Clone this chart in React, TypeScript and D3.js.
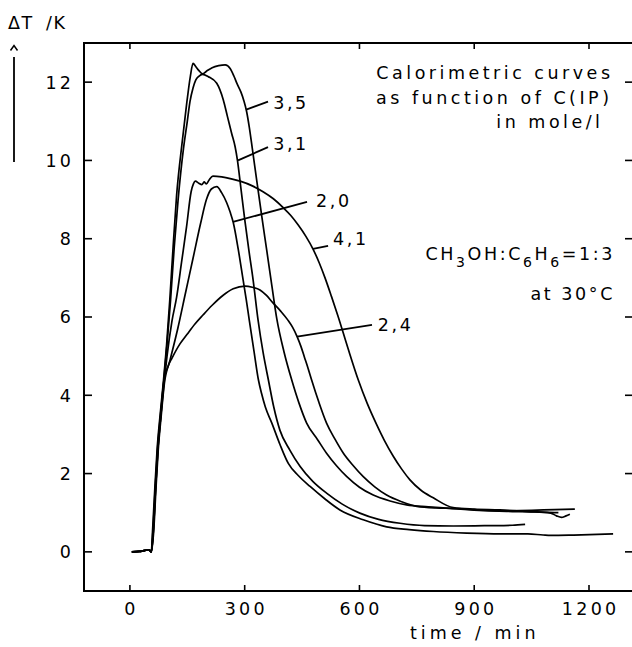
import React from "react";
import * as d3 from "d3";

type P = [number, number];

// ---------- data (time / min, ΔT / K) ----------
const xTicks = [0, 300, 600, 900, 1200];
const yTicks = [0, 2, 4, 6, 8, 10, 12];

const baseline: P[] = [[5, 0], [25, 0.01], [40, 0.04], [50, 0.05], [56, 0]];

const curve35: P[] = [
  ...baseline,
  [59, 0.5], [65, 1.6], [71, 2.6], [79, 3.5], [87, 4.3], [96, 5.3], [104, 6.4], [113, 7.8], [122, 9.1],
  [137, 10.5], [149, 11.5], [158, 12.15], [165, 12.48], [172, 12.4], [180, 12.3], [190, 12.21],
  [200, 12.28], [215, 12.37], [232, 12.42], [249, 12.44], [262, 12.35], [272, 12.15], [280, 11.96],
  [290, 11.75], [298, 11.52], [305, 11.25], [312, 10.85], [320, 10.3], [332, 9.45], [345, 8.55],
  [358, 7.68], [371, 6.8], [384, 5.95], [403, 5.1], [423, 4.39], [442, 3.8], [462, 3.29], [491, 2.86],
  [514, 2.52], [540, 2.2], [567, 1.92], [600, 1.65], [636, 1.45], [680, 1.3], [723, 1.2], [780, 1.15],
  [837, 1.11], [924, 1.05], [1000, 1.03], [1060, 1.02], [1120, 1.0],
];

const curve31: P[] = [
  ...baseline,
  [60, 0.5], [66, 1.6], [72, 2.6], [80, 3.5], [88, 4.3], [97, 5.3], [106, 6.4], [116, 7.8], [126, 9.0],
  [140, 10.3], [150, 11.0], [157, 11.5], [165, 11.85], [172, 12.05], [180, 12.15], [190, 12.2],
  [205, 12.14], [227, 11.97], [244, 11.55], [255, 11.12], [266, 10.69], [275, 10.35], [281, 10.01],
  [290, 9.3], [300, 8.5], [311, 7.7], [322, 6.95], [335, 5.92], [348, 5.1], [362, 4.39], [376, 3.7],
  [392, 3.11], [418, 2.6], [445, 2.18], [478, 1.8], [514, 1.5], [555, 1.22], [601, 0.99], [650, 0.83],
  [706, 0.73], [770, 0.67], [845, 0.66], [940, 0.67], [1000, 0.68], [1033, 0.7],
];

const curve20: P[] = [
  ...baseline,
  [62, 0.5], [68, 1.6], [74, 2.6], [82, 3.5], [90, 4.3], [105, 4.9], [125, 5.7], [145, 6.6],
  [165, 7.5], [185, 8.4], [200, 9.0], [213, 9.27], [227, 9.33], [240, 9.17], [253, 8.92], [262, 8.68],
  [270, 8.42], [283, 7.74], [296, 6.94], [304, 6.45], [312, 5.92], [324, 5.15], [336, 4.39], [344, 4.05],
  [354, 3.7], [371, 3.29], [392, 2.75], [414, 2.26], [440, 1.95], [471, 1.67], [510, 1.35], [549, 1.07],
  [610, 0.82], [671, 0.64], [730, 0.57], [793, 0.52], [880, 0.48], [967, 0.46], [1040, 0.46],
  [1080, 0.43], [1100, 0.42], [1160, 0.43], [1263, 0.46],
];

const curve41: P[] = [
  ...baseline,
  [61, 0.5], [67, 1.6], [73, 2.6], [81, 3.5], [89, 4.3], [97, 5.0], [110, 5.9], [122, 6.5],
  [135, 7.4], [148, 8.3], [160, 9.2], [166, 9.4], [171, 9.47], [180, 9.42], [188, 9.38], [194, 9.45],
  [200, 9.4], [207, 9.5], [217, 9.6], [240, 9.58], [265, 9.53], [288, 9.47], [320, 9.35], [348, 9.2],
  [375, 9.02], [400, 8.8], [420, 8.6], [440, 8.35], [460, 8.06], [479, 7.73], [495, 7.38], [510, 7.0],
  [527, 6.52], [544, 6.02], [570, 5.2], [597, 4.39], [620, 3.8], [645, 3.25], [665, 2.85], [688, 2.45],
  [710, 2.12], [732, 1.84], [760, 1.58], [793, 1.38], [845, 1.13], [900, 1.09], [967, 1.07],
  [1040, 1.03], [1100, 0.99], [1115, 0.92], [1128, 0.88], [1140, 0.92], [1150, 0.96],
];

const curve24: P[] = [
  ...baseline,
  [61, 0.5], [67, 1.6], [73, 2.6], [81, 3.5], [88, 4.3], [100, 4.75], [110, 4.95], [130, 5.3],
  [149, 5.55], [170, 5.82], [191, 6.05], [215, 6.3], [243, 6.55], [270, 6.72], [301, 6.79],
  [320, 6.76], [340, 6.69], [357, 6.55], [374, 6.36], [394, 6.15], [413, 5.92], [425, 5.74],
  [437, 5.5], [447, 5.25], [456, 4.98], [466, 4.68], [475, 4.39], [494, 3.82], [514, 3.29], [536, 2.88],
  [558, 2.52], [584, 2.2], [610, 1.92], [640, 1.66], [671, 1.45], [710, 1.28], [750, 1.16], [800, 1.12],
  [845, 1.11], [900, 1.08], [967, 1.05], [1050, 1.06], [1110, 1.08], [1163, 1.09],
];

const seriesList = [curve35, curve31, curve20, curve41, curve24];

// curve labels: text, leader start (on curve), leader end, label anchor (data coords)
const labelTexts = ["3,5", "3,1", "2,0", "4,1", "2,4"];
const leaderFrom: P[] = [[304, 11.3], [282.6, 10.0], [269.5, 8.43], [478.6, 7.74], [436.8, 5.5]];
const leaderTo: P[] = [[361, 11.5], [361, 10.34], [463, 8.94], [518, 7.82], [632.8, 5.8]];
const labelAt: P[] = [[374.5, 11.32], [374.5, 10.27], [486.5, 8.82], [531, 7.84], [648, 5.63]];

const titleLines = ["Calorimetric curves", "as function of C(IP)", "in mole/l"];

// ---------- layout ----------
const W = 632;
const H = 647;
const x = d3.scaleLinear().domain([-120, 1315]).range([84, 633]);
const y = d3.scaleLinear().domain([-1, 13]).range([591, 43]);

const FONT = "'DejaVu Sans', sans-serif";
const FS = 17.5;
const LS = 3.3;

export default function App() {
  const line = d3
    .line<P>()
    .x((d) => x(d[0]))
    .y((d) => y(d[1]))
    .curve(d3.curveMonotoneX);

  const [x0, x1] = x.range();
  const [y0, y1] = y.range();

  return (
    <svg
      width={W}
      height={H}
      style={{ position: "absolute", left: 0, top: 0, background: "#fff" }}
      fontFamily={FONT}
      fontSize={FS}
      fill="#000"
    >
      <rect x={0} y={0} width={W} height={H} fill="#fff" />
      {/* frame */}
      <rect x={x0} y={y1} width={x1 - x0} height={y0 - y1} fill="none" stroke="#000" strokeWidth={2} />
      {/* x ticks */}
      {xTicks.map((t) => (
        <g key={"xt" + t}>
          <line x1={x(t)} x2={x(t)} y1={y0} y2={y0 - 6} stroke="#000" strokeWidth={1.6} />
          <line x1={x(t)} x2={x(t)} y1={y1} y2={y1 + 6} stroke="#000" strokeWidth={1.6} />
          <text x={x(t) + LS / 2} y={615} textAnchor="middle" letterSpacing={LS}>
            {t}
          </text>
        </g>
      ))}
      {/* y ticks */}
      {yTicks.map((v) => (
        <g key={"yt" + v}>
          <line x1={x0} x2={x0 + 8} y1={y(v)} y2={y(v)} stroke="#000" strokeWidth={1.6} />
          <line x1={x1} x2={x1 - 8} y1={y(v)} y2={y(v)} stroke="#000" strokeWidth={1.6} />
          <text x={71 + LS} y={y(v) + 6.4} textAnchor="end" letterSpacing={LS}>
            {v}
          </text>
        </g>
      ))}
      {/* axis titles */}
      <text x={8} y={29} letterSpacing={1.5}>ΔT</text>
      <text x={46} y={29} letterSpacing={1.5}>/K</text>
      <path d="M10.5,50.5 L14,45.5 L17.5,50.5" fill="none" stroke="#000" strokeWidth={1.5} />
      <line x1={14} x2={14} y1={57} y2={162} stroke="#000" strokeWidth={1.8} />
      <text x={410} y={639} letterSpacing={4}>
        time / min
      </text>
      {/* curves */}
      {seriesList.map((s, i) => (
        <path key={"c" + i} d={line(s) || ""} fill="none" stroke="#000" strokeWidth={1.7} strokeLinejoin="round" />
      ))}
      {/* leaders and labels */}
      {labelTexts.map((t, i) => (
        <g key={"l" + i}>
          <line
            x1={x(leaderFrom[i][0])}
            y1={y(leaderFrom[i][1])}
            x2={x(leaderTo[i][0])}
            y2={y(leaderTo[i][1])}
            stroke="#000"
            strokeWidth={1.8}
          />
          <text x={x(labelAt[i][0])} y={y(labelAt[i][1])} letterSpacing={2.6}>
            {t}
          </text>
        </g>
      ))}
      {/* annotations */}
      {titleLines.map((t, i) => (
        <text key={"tl" + i} x={[613.5, 612.5, 603.5][i]} y={[79, 104, 128][i]} textAnchor="end" letterSpacing={3.5}>
          {t}
        </text>
      ))}
      <text x={615} y={260} textAnchor="end" letterSpacing={2.6}>
        CH<tspan dy={7} fontSize={14}>3</tspan>
        <tspan dy={-7}>OH:C</tspan>
        <tspan dy={7} fontSize={14}>6</tspan>
        <tspan dy={-7}>H</tspan>
        <tspan dy={7} fontSize={14}>6</tspan>
        <tspan dy={-7}>=1:3</tspan>
      </text>
      <text x={615} y={300} textAnchor="end" letterSpacing={2.6}>
        at 30°C
      </text>
    </svg>
  );
}
